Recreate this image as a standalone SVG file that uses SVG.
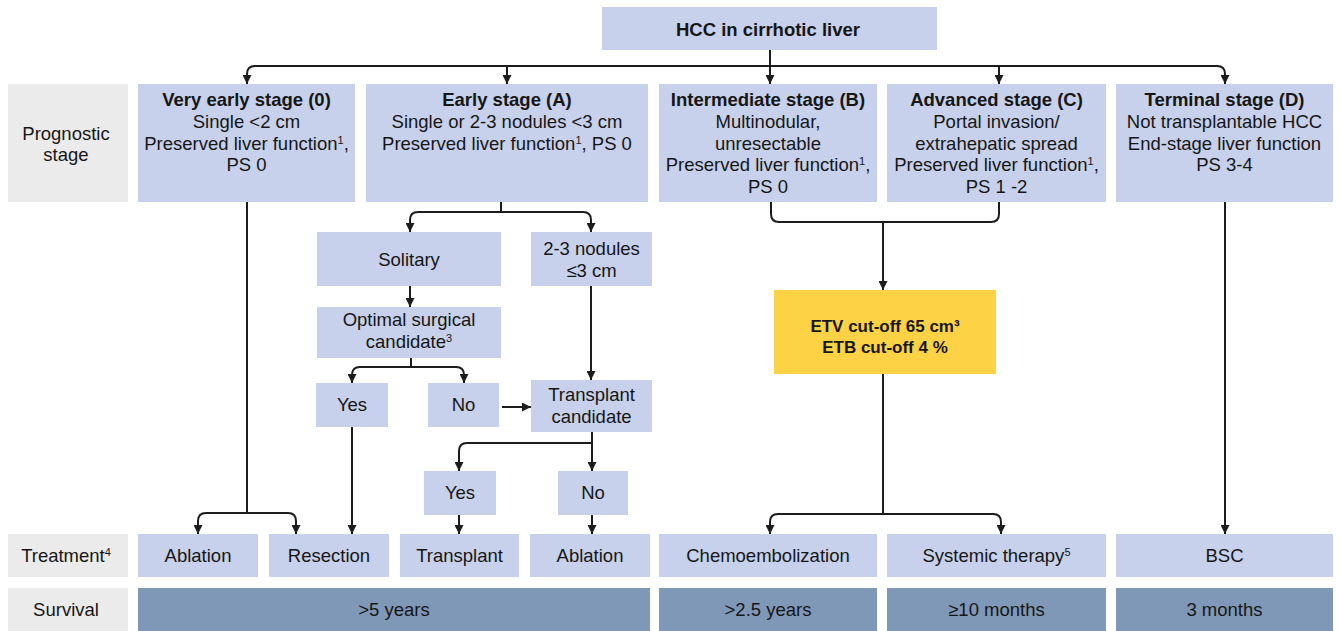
<svg xmlns="http://www.w3.org/2000/svg" width="1341" height="631" viewBox="0 0 1341 631">
<style>
  text { font-family: "Liberation Sans", Arial, sans-serif; font-size: 18.5px; fill: #161616; text-anchor: middle; }
  .b { font-weight: bold; }
  .sup { font-size: 11px; }
  .box { fill: #c7d1eb; }
  .lbl { fill: #ebebeb; }
  .dark { fill: #8098b8; }
  .yel { fill: #fdd244; }
  .conn path { fill: none; stroke: #1c1c1c; stroke-width: 2; }
</style>
<defs>
  <marker id="ah" viewBox="0 0 10 10" refX="10" refY="5" markerWidth="10" markerHeight="9" markerUnits="userSpaceOnUse" orient="auto">
    <path d="M0,0 L10,5 L0,10 z" fill="#1c1c1c"/>
  </marker>
</defs>
<rect width="1341" height="631" fill="#ffffff"/>

<g id="hcc"><rect class="box" x="602" y="7" width="335" height="43"/><text class="b" x="768" y="36">HCC in cirrhotic liver</text></g>

<g id="lbl-prognostic"><rect class="lbl" x="8" y="84" width="120" height="118"/><text x="66" y="139.5">Prognostic</text><text x="66" y="160.5">stage</text></g>
<g id="stage0"><rect class="box" x="138" y="84" width="217" height="118"/>
<text class="b" x="246.5" y="106">Very early stage (0)</text>
<text x="246.5" y="128">Single &lt;2 cm</text>
<text x="246.5" y="149.5">Preserved liver function<tspan class="sup" baseline-shift="super">1</tspan>,</text>
<text x="246.5" y="171">PS 0</text></g>
<g id="stageA"><rect class="box" x="366" y="84" width="282" height="118"/>
<text class="b" x="507" y="106">Early stage (A)</text>
<text x="507" y="128">Single or 2-3 nodules &lt;3 cm</text>
<text x="507" y="149.5">Preserved liver function<tspan class="sup" baseline-shift="super">1</tspan>, PS 0</text></g>
<g id="stageB"><rect class="box" x="659" y="84" width="218" height="118"/>
<text class="b" x="768" y="106">Intermediate stage (B)</text>
<text x="768" y="128">Multinodular,</text>
<text x="768" y="149.5">unresectable</text>
<text x="768" y="171">Preserved liver function<tspan class="sup" baseline-shift="super">1</tspan>,</text>
<text x="768" y="193">PS 0</text></g>
<g id="stageC"><rect class="box" x="887" y="84" width="219" height="118"/>
<text class="b" x="996.5" y="106">Advanced stage (C)</text>
<text x="996.5" y="128">Portal invasion/</text>
<text x="996.5" y="149.5">extrahepatic spread</text>
<text x="996.5" y="171">Preserved liver function<tspan class="sup" baseline-shift="super">1</tspan>,</text>
<text x="996.5" y="193">PS 1 -2</text></g>
<g id="stageD"><rect class="box" x="1116" y="84" width="217" height="118"/>
<text class="b" x="1224.5" y="106">Terminal stage (D)</text>
<text x="1224.5" y="128">Not transplantable HCC</text>
<text x="1224.5" y="149.5">End-stage liver function</text>
<text x="1224.5" y="171">PS 3-4</text></g>

<g id="solitary"><rect class="box" x="317" y="232" width="184" height="54"/><text x="409" y="266">Solitary</text></g>
<g id="nodules"><rect class="box" x="531" y="232" width="121" height="54"/><text x="591.5" y="255">2-3 nodules</text><text x="591.5" y="277">≤3 cm</text></g>
<g id="optimal"><rect class="box" x="317" y="307" width="184" height="51"/><text x="409" y="326">Optimal surgical</text><text x="409" y="348">candidate<tspan class="sup" baseline-shift="super">3</tspan></text></g>
<g id="yes1"><rect class="box" x="316" y="383" width="72" height="44"/><text x="352" y="411">Yes</text></g>
<g id="no1"><rect class="box" x="428" y="383" width="71" height="44"/><text x="463.5" y="411">No</text></g>
<g id="transplant-cand"><rect class="box" x="531" y="380" width="121" height="52"/><text x="591.5" y="401">Transplant</text><text x="591.5" y="423">candidate</text></g>
<g id="yes2"><rect class="box" x="424" y="471" width="72" height="44"/><text x="460" y="499">Yes</text></g>
<g id="no2"><rect class="box" x="558" y="471" width="70" height="44"/><text x="593" y="499">No</text></g>
<g id="etv"><rect class="yel" x="774" y="290" width="222" height="84"/><text class="b" x="885" y="332" style="font-size:17px">ETV cut-off 65 cm³</text><text class="b" x="885" y="353" style="font-size:17px">ETB cut-off 4 %</text></g>

<g id="lbl-treatment"><rect class="lbl" x="8" y="534" width="120" height="43"/><text x="66" y="562">Treatment<tspan class="sup" baseline-shift="super">4</tspan></text></g>
<g id="t-ablation1"><rect class="box" x="138" y="534" width="120" height="43"/><text x="198" y="562">Ablation</text></g>
<g id="t-resection"><rect class="box" x="269" y="534" width="120" height="43"/><text x="329" y="562">Resection</text></g>
<g id="t-transplant"><rect class="box" x="400" y="534" width="119" height="43"/><text x="459.5" y="562">Transplant</text></g>
<g id="t-ablation2"><rect class="box" x="530" y="534" width="120" height="43"/><text x="590" y="562">Ablation</text></g>
<g id="t-chemo"><rect class="box" x="659" y="534" width="218" height="43"/><text x="768" y="562">Chemoembolization</text></g>
<g id="t-systemic"><rect class="box" x="887" y="534" width="219" height="43"/><text x="996.5" y="562">Systemic therapy<tspan class="sup" baseline-shift="super">5</tspan></text></g>
<g id="t-bsc"><rect class="box" x="1116" y="534" width="217" height="43"/><text x="1224.5" y="562">BSC</text></g>

<g id="lbl-survival"><rect class="lbl" x="8" y="588" width="120" height="43"/><text x="66" y="616">Survival</text></g>
<g id="s-05"><rect class="dark" x="138" y="588" width="512" height="43"/><text x="394" y="616">&gt;5 years</text></g>
<g id="s-b"><rect class="dark" x="659" y="588" width="218" height="43"/><text x="768" y="616">&gt;2.5 years</text></g>
<g id="s-c"><rect class="dark" x="887" y="588" width="219" height="43"/><text x="996.5" y="616">≥10 months</text></g>
<g id="s-d"><rect class="dark" x="1116" y="588" width="217" height="43"/><text x="1224.5" y="616">3 months</text></g>

<g id="connectors" class="conn">
  <path d="M770,50 V84" marker-end="url(#ah)"/>
  <path d="M770,66 H255 Q247,66 247,74 V84" marker-end="url(#ah)"/>
  <path d="M770,66 H1217 Q1225,66 1225,74 V84" marker-end="url(#ah)"/>
  <path d="M507,66 V84" marker-end="url(#ah)"/>
  <path d="M999,66 V84" marker-end="url(#ah)"/>

  <path d="M247,202 V513 H206 Q198,513 198,521 V534" marker-end="url(#ah)"/>
  <path d="M247,513 H288 Q296,513 296,521 V534" marker-end="url(#ah)"/>

  <path d="M501,202 V212 H418 Q410,212 410,220 V232" marker-end="url(#ah)"/>
  <path d="M501,212 H583 Q591,212 591,220 V232" marker-end="url(#ah)"/>

  <path d="M410,286 V307" marker-end="url(#ah)"/>
  <path d="M411,358 V367 H360 Q352,367 352,375 V383" marker-end="url(#ah)"/>
  <path d="M411,367 H456 Q464,367 464,375 V383" marker-end="url(#ah)"/>
  <path d="M502,407 H531" marker-end="url(#ah)"/>
  <path d="M591,286 V380" marker-end="url(#ah)"/>
  <path d="M352,427 V534" marker-end="url(#ah)"/>

  <path d="M592,432 V443 H467 Q459,443 459,451 V471" marker-end="url(#ah)"/>
  <path d="M592,443 V471" marker-end="url(#ah)"/>
  <path d="M459,515 V534" marker-end="url(#ah)"/>
  <path d="M592,515 V534" marker-end="url(#ah)"/>

  <path d="M771,202 V214 Q771,222 779,222 H991 Q999,222 999,214 V202"/>
  <path d="M883,222 V290" marker-end="url(#ah)"/>
  <path d="M883,374 V514 H778 Q770,514 770,522 V534" marker-end="url(#ah)"/>
  <path d="M883,514 H993 Q1001,514 1001,522 V534" marker-end="url(#ah)"/>

  <path d="M1225,202 V534" marker-end="url(#ah)"/>
</g>
</svg>
